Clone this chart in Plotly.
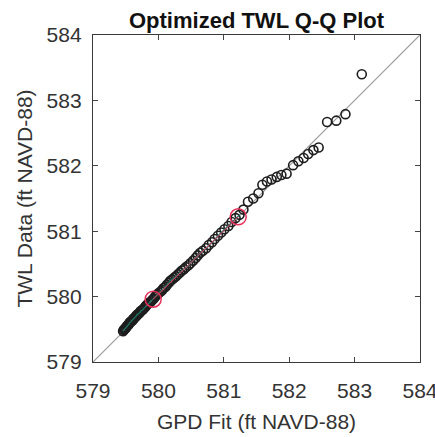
import plotly.graph_objects as go

# GPD fitted quantiles (x) and sorted TWL data (y), ft NAVD-88
gpd_fit = [579.46, 579.47, 579.48, 579.49, 579.50, 579.51, 579.52, 579.53, 579.54, 579.55,
           579.56, 579.57, 579.58, 579.60, 579.61, 579.62, 579.63, 579.65, 579.66, 579.67,
           579.69, 579.70, 579.72, 579.73, 579.75, 579.76, 579.78, 579.80, 579.81, 579.83,
           579.85, 579.87, 579.89, 579.91, 579.93, 579.95, 579.97, 579.99, 580.01, 580.04,
           580.06, 580.08, 580.11, 580.13, 580.16, 580.18, 580.21, 580.24, 580.27, 580.30,
           580.33, 580.36, 580.39, 580.42, 580.46, 580.49, 580.53, 580.57, 580.60, 580.64,
           580.68, 580.73, 580.77, 580.82, 580.86, 580.91, 580.96, 581.01, 581.07, 581.12,
           581.18, 581.24, 581.30, 581.37, 581.45, 581.53, 581.59, 581.66, 581.73, 581.81,
           581.88, 581.96, 582.06, 582.14, 582.22, 582.29, 582.37, 582.45, 582.58, 582.72,
           582.86, 583.11]
twl_data = [579.47, 579.49, 579.50, 579.51, 579.52, 579.53, 579.55, 579.56, 579.57, 579.58,
            579.60, 579.61, 579.62, 579.63, 579.65, 579.66, 579.67, 579.69, 579.70, 579.72,
            579.73, 579.74, 579.76, 579.78, 579.79, 579.80, 579.82, 579.84, 579.86, 579.88,
            579.90, 579.91, 579.93, 579.95, 579.97, 580.00, 580.02, 580.04, 580.06, 580.08,
            580.10, 580.13, 580.15, 580.18, 580.21, 580.24, 580.26, 580.29, 580.31, 580.34,
            580.37, 580.40, 580.42, 580.45, 580.48, 580.51, 580.55, 580.59, 580.63, 580.67,
            580.70, 580.74, 580.79, 580.83, 580.88, 580.93, 580.98, 581.03, 581.08, 581.14,
            581.20, 581.25, 581.33, 581.45, 581.50, 581.58, 581.71, 581.76, 581.79, 581.83,
            581.86, 581.88, 582.01, 582.07, 582.12, 582.18, 582.24, 582.28, 582.67, 582.69,
            582.79, 583.40]

# quartile reference points
quart_x = [579.92, 581.22]
quart_y = [579.96, 581.22]

# 1:1 reference line ends
ref_line = [579, 584]

tick_vals = [579, 580, 581, 582, 583, 584]
tick_text = ["579", "580", "581", "582", "583", "584"]

FONT = "Liberation Sans, Arial, sans-serif"

fig = go.Figure()
fig.add_trace(go.Scatter(x=ref_line, y=ref_line, mode="lines",
                         line=dict(color="#9a9a9a", width=1.2), hoverinfo="skip"))
fig.add_trace(go.Scatter(x=gpd_fit, y=twl_data, mode="markers",
                         marker=dict(symbol="circle-open", size=9, color="#1e1e1e",
                                     line=dict(width=1.6, color="#1e1e1e"))))
fig.add_trace(go.Scatter(x=gpd_fit[:72], y=twl_data[:72], mode="lines",
                         line=dict(color="#1f7a68", width=1.2), hoverinfo="skip"))
fig.add_trace(go.Scatter(x=quart_x, y=quart_y, mode="lines+markers",
                         line=dict(color="#e8305a", width=1),
                         marker=dict(symbol="circle-open", size=16, color="#e8305a",
                                     line=dict(width=1.5, color="#e8305a"))))

axis_common = dict(
    range=[579, 584], tickvals=tick_vals, ticktext=tick_text,
    ticks="inside", ticklen=5, tickwidth=1, tickcolor="#444",
    showline=True, linecolor="#3a3a3a", linewidth=1.3, mirror="ticks",
    showgrid=False, zeroline=False, automargin=False,
    ticklabeloverflow="allow",
    tickfont=dict(family=FONT, size=21, color="#333"),
    title_font=dict(family=FONT, size=21, color="#333"),
)

fig.update_layout(
    width=435, height=437,
    margin=dict(l=93, r=15, t=35, b=75),
    paper_bgcolor="white", plot_bgcolor="white",
    showlegend=False,
    title=dict(text="<b>Optimized TWL Q-Q Plot</b>", x=0.5, xanchor="center",
               xref="paper", y=0.953, yanchor="middle", automargin=False,
               font=dict(family=FONT, size=22, color="#111")),
    xaxis=dict(**axis_common, title=dict(text="GPD Fit (ft NAVD-88)", standoff=12),
               ticklabelstandoff=10),
    yaxis=dict(**axis_common, title=dict(text="TWL Data (ft NAVD-88)", standoff=8),
               ticklabelstandoff=6),
)

fig.write_html("out.html", config={"displayModeBar": False},
               post_script="document.body.style.margin='0';document.body.style.overflow='hidden';")
